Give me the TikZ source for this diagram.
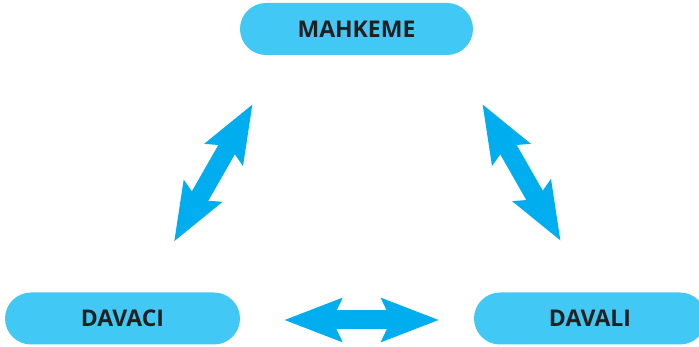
\documentclass[tikz,border=0pt]{standalone}
\usepackage{fontspec}
\setmainfont{Open Sans}
\usetikzlibrary{arrows.meta}

\definecolor{boxblue}{HTML}{42C8F4}
\definecolor{arrowblue}{HTML}{00AEEF}
\definecolor{textdark}{HTML}{231F20}

\tikzset{
  party/.style={fill=boxblue, rounded corners=26pt, minimum height=52pt, inner sep=0pt,
    text=textdark, font=\fontsize{23}{26}\selectfont\bfseries},
  fathead/.tip={Stealth[length=57pt, width=42pt, inset=9pt]},
  twoway/.style={arrowblue, line width=19pt, fathead-fathead}
}

\begin{document}
\begin{tikzpicture}[x=1pt, y=-1pt]
        
        \useasboundingbox (0,0) rectangle (699,347);
        \clip (0,0) rectangle (699,347);
        
        \node [party, minimum width=233pt] (mahkeme) at (356.5,29) {MAHKEME};
        \node [party, minimum width=235pt] (davaci) at (122.5,318.5) {DAVACI};
        \node [party, minimum width=232pt] (davali) at (590,318.5) {DAVALI};
        
        \coordinate (la) at (174,241.7);
        \coordinate (lb) at (252.7,104);
        \coordinate (ra) at (482.3,104);
        \coordinate (rb) at (560.7,241);
        \coordinate (ba) at (284,320);
        \coordinate (bb) at (439.3,320);
        
        \begin{scope}[twoway]
        \draw (la) -- (lb);
        \draw (ra) -- (rb);
        \draw (ba) -- (bb);
        \end{scope}
        
        \end{tikzpicture}
\end{document}
